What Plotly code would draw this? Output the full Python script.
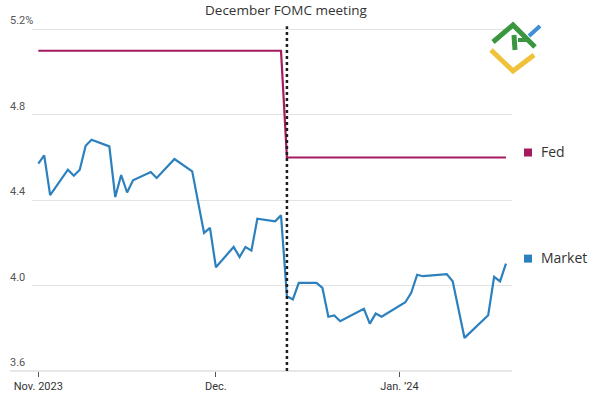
import plotly.graph_objects as go

# ---------------- data ----------------
market_dates = [
    "2023-11-01", "2023-11-02", "2023-11-03", "2023-11-06", "2023-11-07", "2023-11-08",
    "2023-11-09", "2023-11-10", "2023-11-13", "2023-11-14", "2023-11-15", "2023-11-16",
    "2023-11-17", "2023-11-20", "2023-11-21", "2023-11-24", "2023-11-27", "2023-11-29",
    "2023-11-30", "2023-12-01", "2023-12-04", "2023-12-05", "2023-12-06", "2023-12-07",
    "2023-12-08", "2023-12-11", "2023-12-12", "2023-12-13", "2023-12-14", "2023-12-15",
    "2023-12-18", "2023-12-19", "2023-12-20", "2023-12-21", "2023-12-22", "2023-12-26",
    "2023-12-27", "2023-12-28", "2023-12-29", "2024-01-02", "2024-01-03", "2024-01-04",
    "2024-01-05", "2024-01-08", "2024-01-09", "2024-01-10", "2024-01-12", "2024-01-16",
    "2024-01-17", "2024-01-18", "2024-01-19",
]
market_values = [
    4.571, 4.610, 4.424, 4.543, 4.515, 4.543,
    4.655, 4.683, 4.652, 4.415, 4.518, 4.436,
    4.493, 4.532, 4.504, 4.593, 4.535, 4.247,
    4.270, 4.086, 4.181, 4.134, 4.181, 4.164,
    4.313, 4.301, 4.329, 3.950, 3.935, 4.013,
    4.013, 3.989, 3.854, 3.860, 3.833, 3.891,
    3.822, 3.869, 3.854, 3.922, 3.966, 4.051,
    4.044, 4.051, 4.054, 4.020, 3.755, 3.861,
    4.041, 4.020, 4.103,
]
fed_dates = ["2023-11-01", "2023-12-12", "2023-12-13", "2024-01-19"]
fed_values = [5.1, 5.1, 4.6, 4.6]

y_grid_values = [4.0, 4.4, 4.8, 5.2]
y_label_values = [3.6, 4.0, 4.4, 4.8, 5.2]
y_label_texts = ["3.6", "4.0", "4.4", "4.8", "5.2%"]
x_tick_dates = ["2023-11-01", "2023-12-01", "2024-01-01"]
x_tick_labels = ["Nov. 2023", "Dec.", "Jan. \u201924"]
fomc_date = "2023-12-13"
fomc_label = "December FOMC meeting"
series_names = ["Fed", "Market"]

# ---------------- style ----------------
FED_COLOR = "#a51a5c"
MKT_COLOR = "#2c80be"
NARROW = "Roboto, sans-serif"
SANS = "Open Sans, Noto Sans, sans-serif"

W, H = 595, 399
ML, MR, MT, MB = 32, 83, 23, 28
PW, PH = W - ML - MR, H - MT - MB


def px_x(px):
    return (px - ML) / PW


def px_y(py):
    return (H - MB - py) / PH


fig = go.Figure()
fig.add_trace(go.Scatter(x=fed_dates, y=fed_values, mode="lines", name=series_names[0],
                         line=dict(color=FED_COLOR, width=2.2), hoverinfo="skip"))
fig.add_trace(go.Scatter(x=market_dates, y=market_values, mode="lines", name=series_names[1],
                         line=dict(color=MKT_COLOR, width=2.2), hoverinfo="skip"))

shapes = []
annotations = []

# baseline
shapes.append(dict(type="line", xref="paper", yref="paper", x0=px_x(10), x1=1.0, y0=0, y1=0,
                   line=dict(color="#cfcfcf", width=1), layer="below"))
# FOMC dotted line
shapes.append(dict(type="line", xref="x", yref="y", x0=fomc_date, x1=fomc_date, y0=3.6, y1=5.215,
                   line=dict(color="#1e1e1e", width=2.5, dash="dot")))
annotations.append(dict(text=fomc_label, x=fomc_date, xref="x", y=px_y(10.5), yref="paper",
                        xanchor="center", yanchor="middle", showarrow=False,
                        font=dict(family=SANS, size=13.5, color="#333333")))

# y labels
for v, t in zip(y_label_values, y_label_texts):
    annotations.append(dict(text=t, x=px_x(8), xref="paper", y=v, yref="y", xanchor="left",
                            yanchor="bottom", yshift=0, showarrow=False,
                            font=dict(family=NARROW, size=11, color="#555555")))

# end labels (legend)
for name, color, last in [(series_names[0], FED_COLOR, fed_values[-1]),
                          (series_names[1], MKT_COLOR, market_values[-1])]:
    shapes.append(dict(type="rect", xref="paper", yref="y", xsizemode="pixel", ysizemode="pixel",
                       xanchor=px_x(528), yanchor=last, x0=-4, x1=4, y0=1, y1=9,
                       fillcolor=color, line=dict(width=0)))
    annotations.append(dict(text=name, x=px_x(539), xref="paper", y=last, yref="y",
                            xanchor="left", yanchor="middle", yshift=6, showarrow=False,
                            font=dict(family=SANS, size=14, color="#333333")))


# watermark logo
def poly(points, color, width):
    d = "M " + " L ".join(f"{px_x(x):.5f},{px_y(y):.5f}" for x, y in points)
    return dict(type="path", xref="paper", yref="paper", path=d,
                line=dict(color=color, width=width))


shapes.append(poly([(491, 50), (513, 71), (534, 55)], "#efc239", 5))
shapes.append(poly([(493, 42), (513, 25), (535, 47)], "#3b9640", 5))
shapes.append(poly([(514, 35), (515, 50)], "#3b9640", 5))
shapes.append(poly([(518, 40), (530, 40)], "#3b9640", 4))
shapes.append(poly([(529, 36), (540, 26)], "#3e8ed8", 4))

fig.update_layout(
    width=W, height=H,
    margin=dict(l=ML, r=MR, t=MT, b=MB, pad=0, autoexpand=False),
    paper_bgcolor="white", plot_bgcolor="white",
    showlegend=False,
    shapes=shapes, annotations=annotations,
    xaxis=dict(type="date", range=["2023-10-30 22:28", "2024-01-20 00:30"],
               tickvals=x_tick_dates, ticktext=x_tick_labels, automargin=False,
               ticks="outside", ticklen=5, tickwidth=1, tickcolor="#555555",
               showgrid=False, zeroline=False, showline=False,
               tickfont=dict(family=NARROW, size=11, color="#333333")),
    yaxis=dict(range=[3.6, 5.23], tickvals=y_grid_values, showticklabels=False,
               automargin=False,
               showgrid=True, gridcolor="#e3e3e3", gridwidth=1,
               zeroline=False, showline=False, ticks=""),
)

fig.write_html(
    "out.html",
    config={"displayModeBar": False},
    post_script="document.body.style.margin='0';document.body.style.padding='0';"
                "document.body.style.overflow='hidden';",
)
